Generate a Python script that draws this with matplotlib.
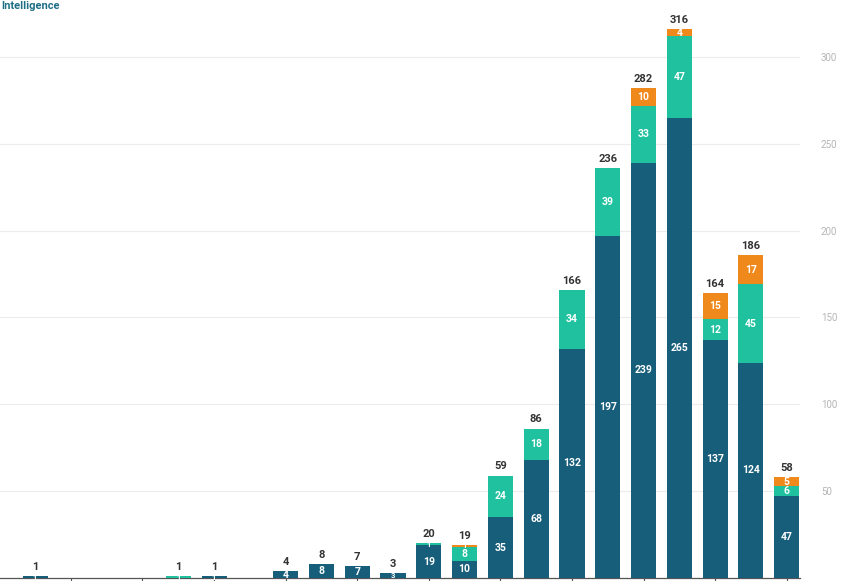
import matplotlib.pyplot as plt
import numpy as np

plt.rcParams['font.family'] = ['Roboto', 'DejaVu Sans']

# yearly counts, three stacked groups
years = list(range(2000, 2022))
dark = [1, 0, 0, 0, 0, 1, 0, 4, 8, 7, 3, 19, 10, 35, 68, 132, 197, 239, 265, 137, 124, 47]
turq = [0, 0, 0, 0, 1, 0, 0, 0, 0, 0, 0, 1, 8, 24, 18, 34, 39, 33, 47, 12, 45, 6]
orange = [0, 0, 0, 0, 0, 0, 0, 0, 0, 0, 0, 0, 1, 0, 0, 0, 0, 10, 4, 15, 17, 5]
yticks = [50, 100, 150, 200, 250, 300]

c_dark = '#175e7b'
c_turq = '#20c19f'
c_orange = '#f0891c'

W, H = 843, 581
fig = plt.figure(figsize=(W / 100, H / 100), dpi=100)
ax = fig.add_axes([0, 3 / H, 800 / W, 578 / H])

x = np.arange(len(years))
dark = np.array(dark)
turq = np.array(turq)
orange = np.array(orange)
bw = 0.7

ax.bar(x, dark, bw, color=c_dark, zorder=3)
ax.bar(x, turq, bw, bottom=dark, color=c_turq, zorder=3)
ax.bar(x, orange, bw, bottom=dark + turq, color=c_orange, zorder=3)

# labels inside each segment
for vals, base in [(dark, 0 * dark), (turq, dark), (orange, dark + turq)]:
    for i in range(len(x)):
        v = vals[i]
        if v <= 0:
            continue
        fs = 7.5 if v >= 4 else 5.5
        ax.text(x[i], base[i] + v / 2, str(v), ha='center', va='center',
                color='white', fontsize=fs, fontweight='bold', zorder=4)

# totals on top
totals = dark + turq + orange
for i in range(len(x)):
    if totals[i] > 0:
        ax.annotate(str(totals[i]), (x[i], totals[i]), xytext=(0, 3),
                    textcoords='offset points', ha='center', va='bottom',
                    fontsize=8, fontweight='bold', color='#333333')

ax.set_xlim(-0.98, 21.37)
ax.set_ylim(0, 332.8)

ax.yaxis.tick_right()
ax.set_yticks(yticks)
ax.set_yticklabels([str(t) for t in yticks])
ax.tick_params(axis='y', length=0, pad=15, labelsize=7, labelcolor='#b5b5b5')
ax.grid(axis='y', color='#ececec', linewidth=0.8, zorder=0)

ax.set_xticks(x[1::2])
ax.set_xticklabels([])
ax.tick_params(axis='x', length=4, width=0.8, color='#555555', direction='out')

for s in ['top', 'left', 'right']:
    ax.spines[s].set_visible(False)
ax.spines['bottom'].set_color('#555555')
ax.spines['bottom'].set_linewidth(0.9)

fig.text(0.001, 0.999, 'Intelligence', ha='left', va='top',
         fontsize=8, fontweight='bold', color='#1d6f85')

fig.savefig('out.png', dpi=100)
